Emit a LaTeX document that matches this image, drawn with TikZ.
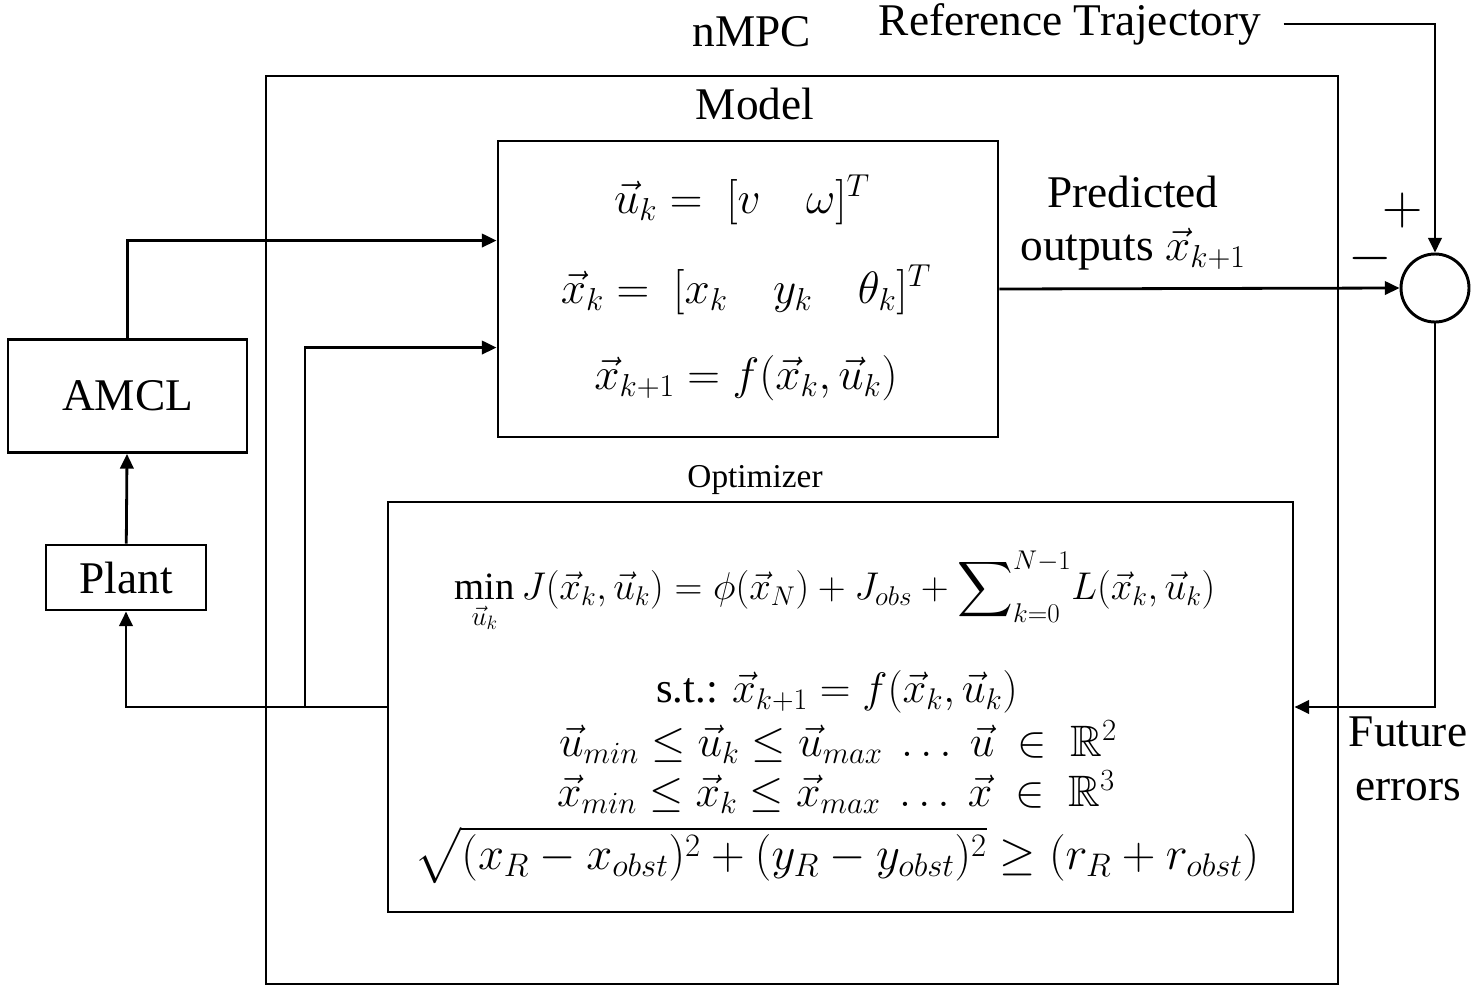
\RequirePackage{fix-cm}
\documentclass[tikz,border=0pt]{standalone}
\usepackage{amsmath,amssymb}
\usepackage{fontspec}
\setmainfont{Liberation Serif}
\usetikzlibrary{arrows.meta,positioning}

\begin{document}
\begin{tikzpicture}[x=0.75pt,y=0.75pt,yscale=-1,xscale=1,
  box/.style={draw,line width=2.2pt,inner sep=0pt},
  conn/.style={line width=2.1pt,-{Triangle[length=11pt,width=10pt]}},
  lbl/.style={inner sep=0.75pt,font=\fontsize{34}{40}\selectfont},
  eq/.style={inner sep=0.75pt,font=\fontsize{34}{40}\selectfont}]
\useasboundingbox (0,0) rectangle (1479,1004);
% boxes
\node[box,line width=1.5pt,minimum width=804pt,minimum height=681pt] (nmpc) at (802,530) {};
\node[box,minimum width=375pt,minimum height=222pt] (model) at (748,289) {};
\node[box,minimum width=678.75pt,minimum height=307.5pt] (opt) at (840.5,707) {};
\node[box,minimum width=179.25pt,minimum height=84.75pt,lbl] (amcl) at (127.5,396) {AMCL};
\node[box,minimum width=120pt,minimum height=48.75pt,lbl] (plant) at (126,577.5) {Plant};
\node[circle,draw,line width=2.2pt,minimum size=51pt,inner sep=0pt] (sum) at (1435,288) {};
% labels
\node[lbl] (nmpclbl) at (752,32) {nMPC};
\node[lbl] (ref) at (1070,24) {Reference Trajectory};
\node[lbl] (modellbl) at (755,104) {Model};
\node[inner sep=0.75pt,font=\fontsize{25}{30}\selectfont] (optlbl) at (755,480) {Optimizer};
\node[lbl,align=center] (pred) at (1133,223) {Predicted\\outputs $\vec{x}_{k+1}$};
\node[lbl,font=\fontsize{42}{48}\selectfont] (plus) at (1403,210) {$+$};
\node[lbl,font=\fontsize{42}{48}\selectfont] (minus) at (1370,258) {$-$};
\node[lbl,align=center] (fut) at (1408,759) {Future\\errors};
% model equations
\node[eq] (equ) at (742,200) {$\vec{u}_k = \ [v \quad \omega]^T$};
\node[eq] (eqx) at (746,290) {$\vec{x}_k = \ [x_k \quad y_k \quad \theta_k]^T$};
\node[eq] (eqf) at (746,378) {$\vec{x}_{k+1} = f(\vec{x}_k,\vec{u}_k)$};
% optimizer equations
\node[eq,font=\fontsize{29}{34}\selectfont] (cost) at (835,592) {$\displaystyle\min_{\vec{u}_k} J(\vec{x}_k,\vec{u}_k) = \phi(\vec{x}_N) + J_{obs} + \sum\nolimits_{k=0}^{N-1}\!L(\vec{x}_k,\vec{u}_k)$};
\node[eq,font=\fontsize{32}{38}\selectfont] (st) at (837,692) {s.t.: $\vec{x}_{k+1} = f(\vec{x}_k,\vec{u}_k)$};
\node[eq,font=\fontsize{33}{38}\selectfont] (ulim) at (838,742) {$\vec{u}_{min} \le \vec{u}_k \le \vec{u}_{max}\ \dots\ \vec{u}\ \in\ \mathbb{R}^2$};
\node[eq,font=\fontsize{33}{38}\selectfont] (xlim) at (836,792) {$\vec{x}_{min} \le \vec{x}_k \le \vec{x}_{max}\ \dots\ \vec{x}\ \in\ \mathbb{R}^3$};
\node[eq,font=\fontsize{35}{40}\selectfont] (obs) at (837,855) {$\sqrt{(x_R - x_{obst})^2 + (y_R - y_{obst})^2} \ge (r_R + r_{obst})$};
% connectors
\path (model.north west) ++(0,101) coordinate (in1);
\path (model.north west) ++(0,208) coordinate (in2);
\coordinate (br) at (305,707);
\draw[conn] (plant) -- (amcl);
\draw[conn] (amcl.north) |- (in1);
\draw[conn] (opt.west) -| (plant.south);
\draw[conn] (br) |- (in2);
\draw[conn] (model.east) -- (sum.west);
\draw[conn] ([xshift=16pt]ref.east) -| (sum.north);
\draw[conn] (sum.south) |- (opt.east);
\end{tikzpicture}
\end{document}
